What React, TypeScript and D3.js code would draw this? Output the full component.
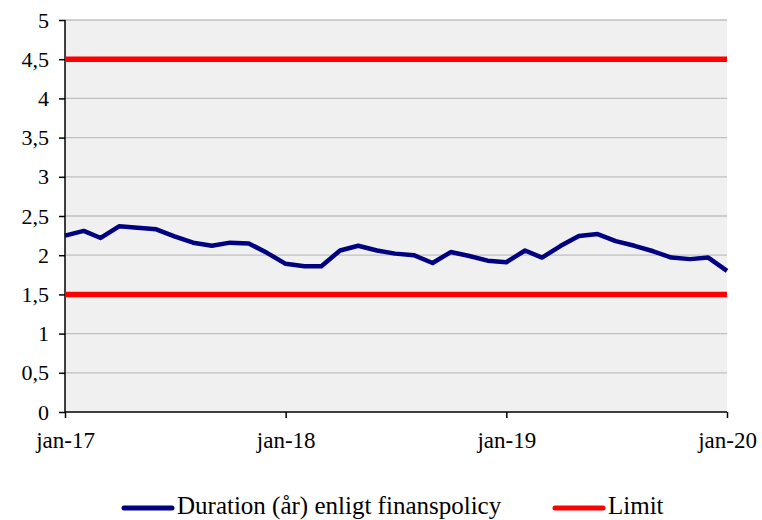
import { useEffect, useRef } from "react";
import * as d3 from "d3";

// monthly duration, jan-17 .. jan-20
const duration = [
  2.25, 2.31, 2.22, 2.37, 2.35, 2.33, 2.24, 2.16, 2.12, 2.16, 2.15, 2.03,
  1.89, 1.86, 1.86, 2.06, 2.12, 2.06, 2.02, 2.0, 1.9, 2.04, 1.99, 1.93,
  1.91, 2.06, 1.97, 2.12, 2.245, 2.27, 2.18, 2.12, 2.05, 1.97, 1.95, 1.97,
  1.8,
];
const limits = [1.5, 4.5];
const yTicks = [0, 0.5, 1, 1.5, 2, 2.5, 3, 3.5, 4, 4.5, 5];
const xTickLabels = ["jan-17", "jan-18", "jan-19", "jan-20"];
const legendLabels = ["Duration (år) enligt finanspolicy", "Limit"];

const W = 762;
const H = 520;
const margin = { top: 20, right: 35, bottom: 108, left: 65 };
const font = "Liberation Serif, Times New Roman, DejaVu Serif, serif";

function App() {
  const ref = useRef<SVGSVGElement | null>(null);

  useEffect(() => {
    const svg = d3.select(ref.current);
    svg.selectAll("*").remove();

    const months = d3.timeMonth.range(new Date(2017, 0, 1), new Date(2020, 1, 1));
    const x = d3
      .scaleTime()
      .domain([months[0], months[months.length - 1]])
      .range([margin.left, W - margin.right]);
    const y = d3.scaleLinear().domain([0, 5]).range([H - margin.bottom, margin.top]);

    const g = svg.append("g").style("font-family", font);

    // plot background
    g.append("rect")
      .attr("x", margin.left)
      .attr("y", margin.top)
      .attr("width", W - margin.left - margin.right)
      .attr("height", H - margin.top - margin.bottom)
      .attr("fill", "#f0f0f0");

    // gridlines
    g.selectAll(".grid")
      .data(yTicks.filter((t) => t > 0))
      .join("line")
      .attr("x1", margin.left)
      .attr("x2", W - margin.right)
      .attr("y1", (d) => y(d))
      .attr("y2", (d) => y(d))
      .attr("stroke", "#c0c0c0")
      .attr("stroke-width", 1.3);

    // y axis
    const yAxis = d3
      .axisLeft(y)
      .tickValues(yTicks)
      .tickSize(6)
      .tickPadding(10)
      .tickFormat((d) => d3.format("")(d as number).replace(".", ","));
    const ya = g.append("g").attr("transform", `translate(${margin.left},0)`).call(yAxis);
    ya.attr("font-family", null);
    ya.select(".domain").attr("stroke", "#000").attr("stroke-width", 1.5).attr("d", `M0,${y(5)}V${y(0)}`);
    ya.selectAll(".tick line").attr("stroke", "#000").attr("stroke-width", 1.5);
    ya.selectAll(".tick text")
      .style("font-family", font)
      .attr("font-size", 22)
      .attr("fill", "#000");

    // x axis
    const xTickDates = [0, 12, 24, 36].map((i) => months[i]);
    const xAxis = d3
      .axisBottom(x)
      .tickValues(xTickDates)
      .tickSize(6)
      .tickPadding(14)
      .tickFormat((_, i) => xTickLabels[i]);
    const xa = g.append("g").attr("transform", `translate(0,${y(0)})`).call(xAxis);
    xa.attr("font-family", null);
    xa.select(".domain").attr("stroke", "#000").attr("stroke-width", 1.5).attr("d", `M${margin.left},0H${W - margin.right}`);
    xa.selectAll(".tick line").attr("stroke", "#000").attr("stroke-width", 1.5);
    xa.selectAll(".tick text")
      .style("font-family", font)
      .attr("font-size", 23)
      .attr("fill", "#000");

    // limit lines
    g.selectAll(".limit")
      .data(limits)
      .join("line")
      .attr("x1", margin.left)
      .attr("x2", W - margin.right)
      .attr("y1", (d) => y(d))
      .attr("y2", (d) => y(d))
      .attr("stroke", "#ff0000")
      .attr("stroke-width", 5.5);

    // duration line
    const line = d3
      .line<number>()
      .x((_, i) => x(months[i]))
      .y((d) => y(d));
    g.append("path")
      .datum(duration)
      .attr("d", line)
      .attr("fill", "none")
      .attr("stroke", "#000080")
      .attr("stroke-width", 4.5)
      .attr("stroke-linejoin", "round");

    // legend
    const legend = [
      { label: legendLabels[0], color: "#000080", x0: 124 },
      { label: legendLabels[1], color: "#ff0000", x0: 555 },
    ];
    const lg = g.selectAll(".legend").data(legend).join("g");
    lg.append("line")
      .attr("x1", (d) => d.x0)
      .attr("x2", (d) => d.x0 + 48)
      .attr("y1", 508)
      .attr("y2", 508)
      .attr("stroke", (d) => d.color)
      .attr("stroke-width", 5)
      .attr("stroke-linecap", "round");
    lg.append("text")
      .attr("x", (d) => d.x0 + 53)
      .attr("y", 514)
      .style("font-family", font)
      .attr("font-size", 25)
      .attr("fill", "#000")
      .text((d) => d.label);
  }, []);

  return (
    <svg
      ref={ref}
      width={W}
      height={H}
      style={{ display: "block", position: "absolute", left: 0, top: 0, background: "#fff" }}
    />
  );
}

export default App;
